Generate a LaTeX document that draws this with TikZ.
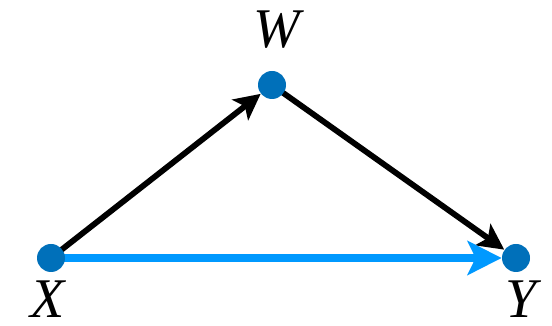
\documentclass[tikz,border=0pt]{standalone}
\usepackage{fontspec}
\setmainfont{Liberation Serif}
\usetikzlibrary{arrows.meta,positioning,backgrounds}
\definecolor{DotBlue}{RGB}{0,112,186}
\definecolor{PathBlue}{RGB}{0,153,255}

\begin{document}
\begin{tikzpicture}[x=1pt,y=1pt,
  vertex/.style={circle,fill=DotBlue,inner sep=0pt,minimum size=14pt},
  varlabel/.style={font=\fontsize{28}{29}\selectfont\itshape,inner sep=0pt,text depth=0pt},
  edge/.style={-{Stealth[length=13pt,width=13pt,inset=3pt]},line width=2.9pt,draw=black},
  causal/.style={-{Stealth[length=17pt,width=17pt,inset=4pt]},line width=3.8pt,draw=PathBlue}]
  \useasboundingbox (0,0) rectangle (276,163);
  \node[vertex] (x) at (25.5,34) {};
  \node[vertex] (w) at (136,120.5) {};
  \node[vertex] (y) at (258,34) {};
  \node[varlabel,anchor=base] (lx) at (24,4) {X};
  \node[varlabel,anchor=base] (lw) at (138.5,139) {W};
  \node[varlabel,anchor=base] (ly) at (260.5,4) {Y};
  % arrows behind the dots
  \begin{scope}[on background layer]
    \draw[edge] (x.center) -- (w);
    \draw[edge] (w.center) -- (y);
    \draw[causal] (x.center) -- (y);
  \end{scope}
\end{tikzpicture}
\end{document}
